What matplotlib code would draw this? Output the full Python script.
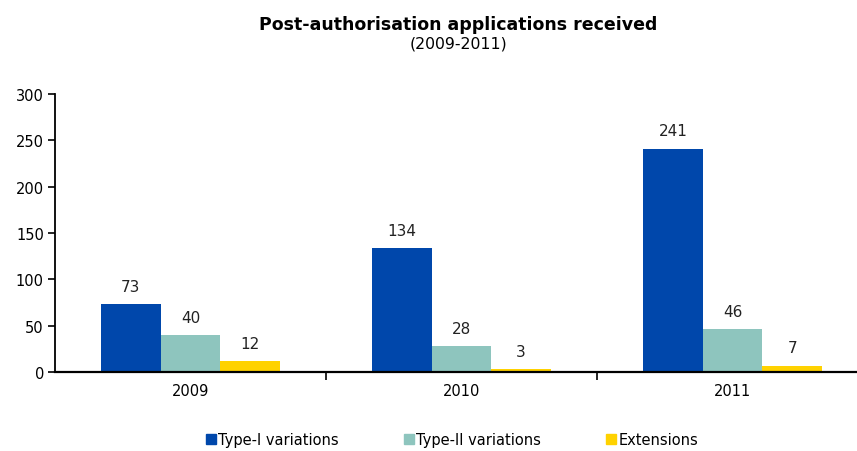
import matplotlib.pyplot as plt
import numpy as np
from matplotlib.lines import Line2D

# Data
years = ['2009', '2010', '2011']
type1 = [73, 134, 241]
type2 = [40, 28, 46]
extensions = [12, 3, 7]

series_names = ['Type-I variations', 'Type-II variations', 'Extensions']
colors = ['#0047AB', '#8EC5BE', '#FFD200']

plt.rcParams['font.family'] = ['DejaVu Sans']

fig = plt.figure(figsize=(8.57, 4.52), dpi=100)
# axis runs a bit past the right edge of the figure, like the original
ax = fig.add_axes([55 / 857, 1 - 373 / 452, 813 / 857, (373 - 95) / 452])

x = np.arange(len(years))
w = 0.22
for i, (vals, c) in enumerate(zip([type1, type2, extensions], colors)):
    pos = x + (i - 1) * w
    ax.bar(pos, vals, width=w, color=c, zorder=2)
    for p, v in zip(pos, vals):
        ax.text(p, v + 11, str(v), ha='center', va='bottom', fontsize=11, color='#222222')

ax.set_xlim(-0.5, 2.5)
ax.set_ylim(0, 300)
ax.set_yticks(range(0, 301, 50))
ax.tick_params(axis='y', labelsize=10.5, length=5, width=1.2, direction='out', pad=3)
ax.set_xticks(x)
ax.set_xticklabels(years, fontsize=10.5)
ax.tick_params(axis='x', length=0, pad=8)
ax.set_xticks([0.5, 1.5], minor=True)
ax.tick_params(axis='x', which='minor', length=6, width=1.2, direction='out')

for s in ['top', 'right']:
    ax.spines[s].set_visible(False)
ax.spines['left'].set_linewidth(1.3)
ax.spines['bottom'].set_linewidth(1.6)

fig.text(0.535, 1 - 25 / 452, 'Post-authorisation applications received',
         ha='center', va='center', fontsize=12.5, fontweight='bold')
fig.text(0.535, 1 - 44 / 452, '(2009-2011)', ha='center', va='center', fontsize=11.3)

handles = [Line2D([0], [0], marker='s', linestyle='none', markersize=7,
                  markerfacecolor=c, markeredgecolor=c) for c in colors]
fig.legend(handles, series_names, loc='lower center', bbox_to_anchor=(0.527, -0.02),
           ncol=3, frameon=False, fontsize=10.5, handletextpad=0.1,
           columnspacing=4.4, handlelength=0.8)

fig.savefig('out.png', dpi=100)
